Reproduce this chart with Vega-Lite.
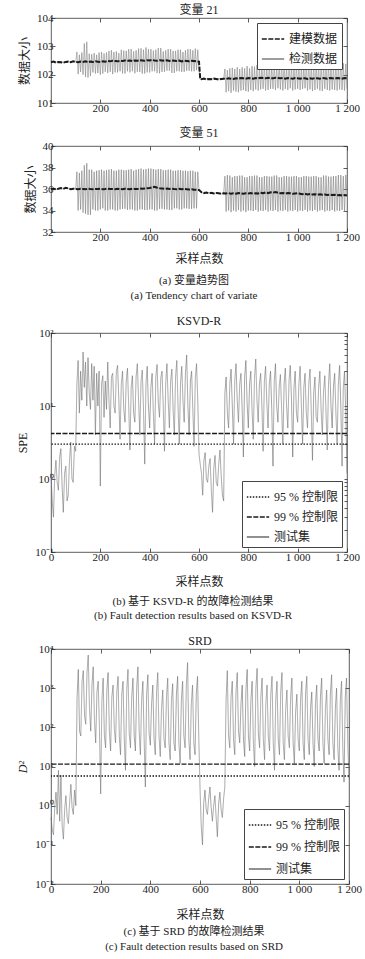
{
"$schema": "https://vega.github.io/schema/vega-lite/v6.json",
"background": "white",
"padding": {"left": 16, "top": 3, "right": 2, "bottom": 2},
"config": {
  "font": "Liberation Serif, Noto Sans CJK SC",
  "view": {"stroke": "#333", "strokeWidth": 0.8},
  "axis": {"domain": false, "grid": false, "ticks": true, "tickSize": -4, "tickColor": "#333", "tickWidth": 0.8,
           "labelFont": "Liberation Serif, Noto Sans CJK SC", "labelFontSize": 11, "labelColor": "#222", "labelPadding": 3,
           "titleFont": "Liberation Serif, Noto Sans CJK SC", "titleFontSize": 12, "titleFontWeight": "normal", "titleColor": "#222", "titlePadding": 11,
           "labelFlush": false, "labelOverlap": false},
  "axisLeft": {"labelPadding": 2, "titlePadding": 5},
  "axisTop": {"minExtent": 0, "maxExtent": 0},
  "axisRight": {"minExtent": 0, "maxExtent": 0},
  "title": {"font": "Liberation Serif, Noto Sans CJK SC", "fontSize": 12, "fontWeight": "normal", "color": "#222", "offset": 3},
  "legend": {"strokeColor": "#444", "fillColor": "white", "padding": 4, "symbolType": "stroke", "symbolSize": 500, "symbolStrokeWidth": 1.6,
             "labelFont": "Liberation Serif, Noto Sans CJK SC", "labelFontSize": 12, "labelColor": "#222", "rowPadding": 2, "labelLimit": 200, "offset": 5, "cornerRadius": 0}
},
"datasets": {
"v21m": [
{"x":0,"m":102.44},{"x":10,"m":102.46},{"x":20,"m":102.43},{"x":30,"m":102.45},{"x":40,"m":102.44},{"x":50,"m":102.42},{"x":60,"m":102.45},{"x":70,"m":102.46},{"x":80,"m":102.44},{"x":90,"m":102.47},{"x":100,"m":102.45},
{"x":110,"m":102.44},{"x":120,"m":102.46},{"x":130,"m":102.45},{"x":140,"m":102.47},{"x":150,"m":102.44},{"x":160,"m":102.46},{"x":170,"m":102.45},{"x":180,"m":102.47},{"x":190,"m":102.46},{"x":200,"m":102.45},
{"x":210,"m":102.47},{"x":220,"m":102.46},{"x":230,"m":102.48},{"x":240,"m":102.47},{"x":250,"m":102.49},{"x":260,"m":102.48},{"x":270,"m":102.47},{"x":280,"m":102.49},{"x":290,"m":102.48},{"x":300,"m":102.5},
{"x":310,"m":102.49},{"x":320,"m":102.5},{"x":330,"m":102.48},{"x":340,"m":102.5},{"x":350,"m":102.49},{"x":360,"m":102.51},{"x":370,"m":102.5},{"x":380,"m":102.49},{"x":390,"m":102.51},{"x":400,"m":102.5},
{"x":410,"m":102.52},{"x":420,"m":102.5},{"x":430,"m":102.49},{"x":440,"m":102.51},{"x":450,"m":102.5},{"x":460,"m":102.49},{"x":470,"m":102.51},{"x":480,"m":102.48},{"x":490,"m":102.5},{"x":500,"m":102.49},
{"x":510,"m":102.48},{"x":520,"m":102.5},{"x":530,"m":102.47},{"x":540,"m":102.49},{"x":550,"m":102.48},{"x":560,"m":102.47},{"x":570,"m":102.49},{"x":580,"m":102.48},{"x":590,"m":102.47},{"x":600,"m":102.46},
{"x":605,"m":101.85},{"x":610,"m":101.84},{"x":620,"m":101.86},{"x":630,"m":101.83},{"x":640,"m":101.85},{"x":650,"m":101.84},{"x":660,"m":101.86},{"x":670,"m":101.85},{"x":680,"m":101.83},{"x":690,"m":101.85},{"x":700,"m":101.86},
{"x":710,"m":101.85},{"x":720,"m":101.87},{"x":730,"m":101.86},{"x":740,"m":101.85},{"x":750,"m":101.87},{"x":760,"m":101.86},{"x":770,"m":101.88},{"x":780,"m":101.87},{"x":790,"m":101.86},{"x":800,"m":101.88},
{"x":810,"m":101.87},{"x":820,"m":101.86},{"x":830,"m":101.88},{"x":840,"m":101.87},{"x":850,"m":101.89},{"x":860,"m":101.88},{"x":870,"m":101.87},{"x":880,"m":101.89},{"x":890,"m":101.88},{"x":900,"m":101.87},
{"x":910,"m":101.89},{"x":920,"m":101.88},{"x":930,"m":101.87},{"x":940,"m":101.88},{"x":950,"m":101.86},{"x":960,"m":101.88},{"x":970,"m":101.87},{"x":980,"m":101.86},{"x":990,"m":101.88},{"x":1000,"m":101.87},
{"x":1010,"m":101.86},{"x":1020,"m":101.88},{"x":1030,"m":101.87},{"x":1040,"m":101.85},{"x":1050,"m":101.87},{"x":1060,"m":101.86},{"x":1070,"m":101.88},{"x":1080,"m":101.87},{"x":1090,"m":101.86},{"x":1100,"m":101.88},
{"x":1110,"m":101.87},{"x":1120,"m":101.86},{"x":1130,"m":101.88},{"x":1140,"m":101.87},{"x":1150,"m":101.86},{"x":1160,"m":101.88},{"x":1170,"m":101.87},{"x":1180,"m":101.86},{"x":1190,"m":101.88},{"x":1200,"m":101.87}
],
"v21d": [
{"x":0,"d":102.44},{"x":5,"d":102.45},{"x":10,"d":102.46},{"x":15,"d":102.44},{"x":20,"d":102.43},{"x":25,"d":102.45},{"x":30,"d":102.45},{"x":35,"d":102.44},{"x":40,"d":102.44},{"x":45,"d":102.43},{"x":50,"d":102.42},{"x":55,"d":102.44},{"x":60,"d":102.45},{"x":65,"d":102.46},{"x":70,"d":102.46},{"x":75,"d":102.45},{"x":80,"d":102.44},{"x":85,"d":102.46},{"x":90,"d":102.47},{"x":95,"d":102.45},{"x":100,"d":102.45},
{"x":105,"d":102.8},{"x":110,"d":102.02},{"x":115,"d":102.7},{"x":120,"d":102.1},{"x":125,"d":102.78},{"x":130,"d":102.0},{"x":135,"d":103.1},{"x":140,"d":101.92},{"x":145,"d":103.16},{"x":150,"d":101.9},
{"x":155,"d":102.74},{"x":160,"d":101.95},{"x":165,"d":102.72},{"x":170,"d":102.08},{"x":175,"d":102.76},{"x":180,"d":102.04},{"x":185,"d":102.7},{"x":190,"d":102.06},{"x":195,"d":102.78},{"x":200,"d":102.0},
{"x":205,"d":102.8},{"x":210,"d":102.04},{"x":215,"d":102.75},{"x":220,"d":102.1},{"x":225,"d":102.78},{"x":230,"d":102.06},{"x":235,"d":102.84},{"x":240,"d":102.1},{"x":245,"d":102.86},{"x":250,"d":102.02},
{"x":255,"d":102.8},{"x":260,"d":102.08},{"x":265,"d":102.82},{"x":270,"d":102.08},{"x":275,"d":102.76},{"x":280,"d":102.12},{"x":285,"d":102.88},{"x":290,"d":102.04},{"x":295,"d":102.85},{"x":300,"d":102.04},
{"x":305,"d":102.84},{"x":310,"d":102.12},{"x":315,"d":102.9},{"x":320,"d":102.08},{"x":325,"d":102.9},{"x":330,"d":102.12},{"x":335,"d":102.82},{"x":340,"d":102.05},{"x":345,"d":102.86},{"x":350,"d":102.1},
{"x":355,"d":102.92},{"x":360,"d":102.1},{"x":365,"d":102.93},{"x":370,"d":102.04},{"x":375,"d":102.88},{"x":380,"d":102.04},{"x":385,"d":102.96},{"x":390,"d":102.08},{"x":395,"d":102.9},{"x":400,"d":102.08},
{"x":405,"d":102.9},{"x":410,"d":102.12},{"x":415,"d":102.85},{"x":420,"d":102.12},{"x":425,"d":102.88},{"x":430,"d":102.06},{"x":435,"d":102.94},{"x":440,"d":102.05},{"x":445,"d":102.94},{"x":450,"d":102.1},
{"x":455,"d":102.82},{"x":460,"d":102.1},{"x":465,"d":102.86},{"x":470,"d":102.14},{"x":475,"d":102.9},{"x":480,"d":102.14},{"x":485,"d":102.9},{"x":490,"d":102.06},{"x":495,"d":102.84},{"x":500,"d":102.06},
{"x":505,"d":102.84},{"x":510,"d":102.12},{"x":515,"d":102.88},{"x":520,"d":102.12},{"x":525,"d":102.88},{"x":530,"d":102.1},{"x":535,"d":102.8},{"x":540,"d":102.1},{"x":545,"d":102.86},{"x":550,"d":102.14},
{"x":555,"d":102.9},{"x":560,"d":102.14},{"x":565,"d":102.9},{"x":570,"d":102.12},{"x":575,"d":102.86},{"x":580,"d":102.12},{"x":585,"d":102.92},{"x":590,"d":102.16},{"x":595,"d":102.88},{"x":600,"d":102.2},
{"x":605,"d":101.84},{"x":610,"d":101.85},{"x":615,"d":101.86},{"x":620,"d":101.84},{"x":625,"d":101.83},{"x":630,"d":101.85},{"x":635,"d":101.85},{"x":640,"d":101.84},{"x":645,"d":101.84},{"x":650,"d":101.86},{"x":655,"d":101.86},{"x":660,"d":101.85},{"x":665,"d":101.85},{"x":670,"d":101.84},{"x":675,"d":101.83},{"x":680,"d":101.85},{"x":685,"d":101.85},{"x":690,"d":101.86},{"x":695,"d":101.86},{"x":700,"d":101.85},
{"x":705,"d":102.2},{"x":710,"d":101.38},{"x":715,"d":102.16},{"x":720,"d":101.42},{"x":725,"d":102.22},{"x":730,"d":101.36},{"x":735,"d":102.24},{"x":740,"d":101.44},{"x":745,"d":102.2},{"x":750,"d":101.4},
{"x":755,"d":102.26},{"x":760,"d":101.38},{"x":765,"d":102.2},{"x":770,"d":101.44},{"x":775,"d":102.26},{"x":780,"d":101.46},{"x":785,"d":102.22},{"x":790,"d":101.42},{"x":795,"d":102.3},{"x":800,"d":101.4},
{"x":805,"d":102.22},{"x":810,"d":101.46},{"x":815,"d":102.3},{"x":820,"d":101.42},{"x":825,"d":102.28},{"x":830,"d":101.48},{"x":835,"d":102.34},{"x":840,"d":101.44},{"x":845,"d":102.28},{"x":850,"d":101.48},
{"x":855,"d":102.3},{"x":860,"d":101.5},{"x":865,"d":102.34},{"x":870,"d":101.44},{"x":875,"d":102.3},{"x":880,"d":101.46},{"x":885,"d":102.36},{"x":890,"d":101.5},{"x":895,"d":102.32},{"x":900,"d":101.5},
{"x":905,"d":102.36},{"x":910,"d":101.46},{"x":915,"d":102.32},{"x":920,"d":101.52},{"x":925,"d":102.32},{"x":930,"d":101.48},{"x":935,"d":102.38},{"x":940,"d":101.44},{"x":945,"d":102.38},{"x":950,"d":101.5},
{"x":955,"d":102.3},{"x":960,"d":101.46},{"x":965,"d":102.34},{"x":970,"d":101.52},{"x":975,"d":102.34},{"x":980,"d":101.44},{"x":985,"d":102.3},{"x":990,"d":101.48},{"x":995,"d":102.36},{"x":1000,"d":101.5},
{"x":1005,"d":102.36},{"x":1010,"d":101.46},{"x":1015,"d":102.3},{"x":1020,"d":101.5},{"x":1025,"d":102.3},{"x":1030,"d":101.52},{"x":1035,"d":102.38},{"x":1040,"d":101.44},{"x":1045,"d":102.38},{"x":1050,"d":101.48},
{"x":1055,"d":102.32},{"x":1060,"d":101.42},{"x":1065,"d":102.36},{"x":1070,"d":101.46},{"x":1075,"d":102.36},{"x":1080,"d":101.5},{"x":1085,"d":102.34},{"x":1090,"d":101.44},{"x":1095,"d":102.34},{"x":1100,"d":101.42},
{"x":1105,"d":102.34},{"x":1110,"d":101.5},{"x":1115,"d":102.38},{"x":1120,"d":101.46},{"x":1125,"d":102.38},{"x":1130,"d":101.44},{"x":1135,"d":102.32},{"x":1140,"d":101.48},{"x":1145,"d":102.32},{"x":1150,"d":101.46},
{"x":1155,"d":102.36},{"x":1160,"d":101.44},{"x":1165,"d":102.36},{"x":1170,"d":101.48},{"x":1175,"d":102.4},{"x":1180,"d":101.46},{"x":1185,"d":102.4},{"x":1190,"d":101.44},{"x":1195,"d":102.38},{"x":1200,"d":101.5}
],
"v51m": [
{"x":0,"m":36.0},{"x":10,"m":36.05},{"x":20,"m":35.95},{"x":30,"m":36.02},{"x":40,"m":36.08},{"x":50,"m":36.0},{"x":60,"m":36.12},{"x":70,"m":36.05},{"x":80,"m":35.98},{"x":90,"m":36.03},{"x":100,"m":36.0},
{"x":110,"m":35.98},{"x":120,"m":36.02},{"x":130,"m":36.0},{"x":140,"m":35.97},{"x":150,"m":36.03},{"x":160,"m":36.0},{"x":170,"m":35.98},{"x":180,"m":36.01},{"x":190,"m":35.99},{"x":200,"m":36.02},
{"x":210,"m":35.98},{"x":220,"m":36.0},{"x":230,"m":36.03},{"x":240,"m":35.99},{"x":250,"m":36.01},{"x":260,"m":35.98},{"x":270,"m":36.02},{"x":280,"m":36.0},{"x":290,"m":35.97},{"x":300,"m":36.02},
{"x":310,"m":36.0},{"x":320,"m":35.98},{"x":330,"m":36.03},{"x":340,"m":36.01},{"x":350,"m":35.99},{"x":360,"m":36.04},{"x":370,"m":36.02},{"x":380,"m":36.05},{"x":390,"m":36.08},{"x":400,"m":36.1},
{"x":410,"m":36.15},{"x":420,"m":36.2},{"x":430,"m":36.12},{"x":440,"m":36.08},{"x":450,"m":36.05},{"x":460,"m":36.02},{"x":470,"m":36.04},{"x":480,"m":36.0},{"x":490,"m":36.03},{"x":500,"m":36.0},
{"x":510,"m":35.98},{"x":520,"m":36.02},{"x":530,"m":35.97},{"x":540,"m":36.0},{"x":550,"m":35.98},{"x":560,"m":35.95},{"x":570,"m":35.97},{"x":580,"m":35.94},{"x":590,"m":35.92},{"x":600,"m":35.9},
{"x":610,"m":35.7},{"x":620,"m":35.62},{"x":630,"m":35.68},{"x":640,"m":35.6},{"x":650,"m":35.65},{"x":660,"m":35.58},{"x":670,"m":35.63},{"x":680,"m":35.6},{"x":690,"m":35.55},{"x":700,"m":35.6},
{"x":710,"m":35.58},{"x":720,"m":35.62},{"x":730,"m":35.55},{"x":740,"m":35.6},{"x":750,"m":35.57},{"x":760,"m":35.63},{"x":770,"m":35.59},{"x":780,"m":35.55},{"x":790,"m":35.6},{"x":800,"m":35.58},
{"x":810,"m":35.62},{"x":820,"m":35.56},{"x":830,"m":35.6},{"x":840,"m":35.58},{"x":850,"m":35.65},{"x":860,"m":35.6},{"x":870,"m":35.68},{"x":880,"m":35.62},{"x":890,"m":35.7},{"x":900,"m":35.66},
{"x":910,"m":35.72},{"x":920,"m":35.65},{"x":930,"m":35.6},{"x":940,"m":35.63},{"x":950,"m":35.58},{"x":960,"m":35.62},{"x":970,"m":35.6},{"x":980,"m":35.55},{"x":990,"m":35.58},{"x":1000,"m":35.6},
{"x":1010,"m":35.56},{"x":1020,"m":35.52},{"x":1030,"m":35.55},{"x":1040,"m":35.5},{"x":1050,"m":35.53},{"x":1060,"m":35.48},{"x":1070,"m":35.52},{"x":1080,"m":35.47},{"x":1090,"m":35.5},{"x":1100,"m":35.46},
{"x":1110,"m":35.49},{"x":1120,"m":35.45},{"x":1130,"m":35.48},{"x":1140,"m":35.44},{"x":1150,"m":35.46},{"x":1160,"m":35.42},{"x":1170,"m":35.45},{"x":1180,"m":35.4},{"x":1190,"m":35.43},{"x":1200,"m":35.4}
],
"v51d": [
{"x":0,"d":36.0},{"x":5,"d":36.03},{"x":10,"d":36.05},{"x":15,"d":36.0},{"x":20,"d":35.95},{"x":25,"d":36.0},{"x":30,"d":36.02},{"x":35,"d":36.05},{"x":40,"d":36.08},{"x":45,"d":36.04},{"x":50,"d":36.0},{"x":55,"d":36.06},{"x":60,"d":36.12},{"x":65,"d":36.08},{"x":70,"d":36.05},{"x":75,"d":36.0},{"x":80,"d":35.98},{"x":85,"d":36.0},{"x":90,"d":36.03},{"x":95,"d":36.02},{"x":100,"d":36.0},
{"x":105,"d":37.6},{"x":110,"d":34.0},{"x":115,"d":37.5},{"x":120,"d":34.1},{"x":125,"d":37.7},{"x":130,"d":33.8},{"x":135,"d":38.2},{"x":140,"d":33.7},{"x":145,"d":38.4},{"x":150,"d":33.6},
{"x":155,"d":37.8},{"x":160,"d":33.6},{"x":165,"d":37.8},{"x":170,"d":34.1},{"x":175,"d":37.6},{"x":180,"d":34.0},{"x":185,"d":37.7},{"x":190,"d":34.0},{"x":195,"d":37.75},{"x":200,"d":34.1},
{"x":205,"d":37.8},{"x":210,"d":34.2},{"x":215,"d":37.7},{"x":220,"d":34.0},{"x":225,"d":37.75},{"x":230,"d":34.0},{"x":235,"d":37.8},{"x":240,"d":34.1},{"x":245,"d":37.85},{"x":250,"d":34.1},
{"x":255,"d":37.7},{"x":260,"d":34.0},{"x":265,"d":37.7},{"x":270,"d":34.0},{"x":275,"d":37.8},{"x":280,"d":34.1},{"x":285,"d":37.8},{"x":290,"d":34.15},{"x":295,"d":37.75},{"x":300,"d":34.15},
{"x":305,"d":37.75},{"x":310,"d":34.05},{"x":315,"d":37.8},{"x":320,"d":34.1},{"x":325,"d":37.85},{"x":330,"d":34.1},{"x":335,"d":37.7},{"x":340,"d":34.0},{"x":345,"d":37.8},{"x":350,"d":34.0},
{"x":355,"d":37.85},{"x":360,"d":34.1},{"x":365,"d":37.9},{"x":370,"d":34.1},{"x":375,"d":37.8},{"x":380,"d":34.05},{"x":385,"d":37.85},{"x":390,"d":34.05},{"x":395,"d":37.9},{"x":400,"d":34.1},
{"x":405,"d":37.9},{"x":410,"d":34.1},{"x":415,"d":37.85},{"x":420,"d":34.0},{"x":425,"d":37.8},{"x":430,"d":34.0},{"x":435,"d":37.85},{"x":440,"d":34.15},{"x":445,"d":37.85},{"x":450,"d":34.15},
{"x":455,"d":37.75},{"x":460,"d":34.1},{"x":465,"d":37.75},{"x":470,"d":34.1},{"x":475,"d":37.8},{"x":480,"d":34.05},{"x":485,"d":37.8},{"x":490,"d":34.05},{"x":495,"d":37.7},{"x":500,"d":34.2},
{"x":505,"d":37.7},{"x":510,"d":34.2},{"x":515,"d":37.75},{"x":520,"d":34.1},{"x":525,"d":37.75},{"x":530,"d":34.1},{"x":535,"d":37.7},{"x":540,"d":34.2},{"x":545,"d":37.7},{"x":550,"d":34.2},
{"x":555,"d":37.65},{"x":560,"d":34.15},{"x":565,"d":37.7},{"x":570,"d":34.15},{"x":575,"d":37.7},{"x":580,"d":34.2},{"x":585,"d":37.6},{"x":590,"d":34.2},{"x":595,"d":37.6},{"x":600,"d":35.9},
{"x":605,"d":35.75},{"x":610,"d":35.7},{"x":615,"d":35.65},{"x":620,"d":35.62},{"x":625,"d":35.66},{"x":630,"d":35.68},{"x":635,"d":35.62},{"x":640,"d":35.6},{"x":645,"d":35.64},{"x":650,"d":35.65},{"x":655,"d":35.6},{"x":660,"d":35.58},{"x":665,"d":35.62},{"x":670,"d":35.63},{"x":675,"d":35.6},{"x":680,"d":35.6},{"x":685,"d":35.57},{"x":690,"d":35.55},{"x":695,"d":35.58},{"x":700,"d":35.6},
{"x":705,"d":37.2},{"x":710,"d":33.9},{"x":715,"d":37.3},{"x":720,"d":34.0},{"x":725,"d":37.25},{"x":730,"d":33.85},{"x":735,"d":37.1},{"x":740,"d":34.0},{"x":745,"d":37.2},{"x":750,"d":33.9},
{"x":755,"d":37.2},{"x":760,"d":34.05},{"x":765,"d":37.25},{"x":770,"d":33.9},{"x":775,"d":37.25},{"x":780,"d":34.0},{"x":785,"d":37.1},{"x":790,"d":33.85},{"x":795,"d":37.1},{"x":800,"d":34.0},
{"x":805,"d":37.2},{"x":810,"d":34.0},{"x":815,"d":37.2},{"x":820,"d":33.95},{"x":825,"d":37.25},{"x":830,"d":34.05},{"x":835,"d":37.25},{"x":840,"d":33.9},{"x":845,"d":37.1},{"x":850,"d":34.0},
{"x":855,"d":37.1},{"x":860,"d":33.95},{"x":865,"d":37.2},{"x":870,"d":34.05},{"x":875,"d":37.2},{"x":880,"d":33.9},{"x":885,"d":37.15},{"x":890,"d":34.0},{"x":895,"d":37.15},{"x":900,"d":33.95},
{"x":905,"d":37.25},{"x":910,"d":34.05},{"x":915,"d":37.25},{"x":920,"d":33.9},{"x":925,"d":37.1},{"x":930,"d":34.0},{"x":935,"d":37.1},{"x":940,"d":33.95},{"x":945,"d":37.2},{"x":950,"d":34.05},
{"x":955,"d":37.2},{"x":960,"d":33.9},{"x":965,"d":37.15},{"x":970,"d":34.0},{"x":975,"d":37.15},{"x":980,"d":33.95},{"x":985,"d":37.2},{"x":990,"d":34.05},{"x":995,"d":37.2},{"x":1000,"d":33.9},
{"x":1005,"d":37.1},{"x":1010,"d":34.0},{"x":1015,"d":37.1},{"x":1020,"d":33.95},{"x":1025,"d":37.2},{"x":1030,"d":34.05},{"x":1035,"d":37.2},{"x":1040,"d":33.9},{"x":1045,"d":37.15},{"x":1050,"d":34.0},
{"x":1055,"d":37.15},{"x":1060,"d":33.95},{"x":1065,"d":37.2},{"x":1070,"d":34.05},{"x":1075,"d":37.2},{"x":1080,"d":33.9},{"x":1085,"d":37.1},{"x":1090,"d":34.0},{"x":1095,"d":37.1},{"x":1100,"d":34.05},
{"x":1105,"d":37.25},{"x":1110,"d":33.9},{"x":1115,"d":37.25},{"x":1120,"d":34.0},{"x":1125,"d":37.15},{"x":1130,"d":33.95},{"x":1135,"d":37.15},{"x":1140,"d":34.05},{"x":1145,"d":37.2},{"x":1150,"d":33.9},
{"x":1155,"d":37.2},{"x":1160,"d":34.0},{"x":1165,"d":37.3},{"x":1170,"d":33.95},{"x":1175,"d":37.3},{"x":1180,"d":34.05},{"x":1185,"d":37.2},{"x":1190,"d":33.9},{"x":1195,"d":37.3},{"x":1200,"d":35.4}
],
"ksvd": [
{"x":0,"v":1.2},{"x":5,"v":0.5},{"x":10,"v":0.3},{"x":15,"v":1.1},{"x":20,"v":1.8},{"x":25,"v":0.9},{"x":30,"v":0.7},{"x":35,"v":2.0},{"x":40,"v":2.6},{"x":45,"v":0.8},{"x":50,"v":0.35},{"x":55,"v":1.2},{"x":60,"v":1.5},{"x":65,"v":0.5},{"x":70,"v":0.6},{"x":75,"v":1.8},{"x":80,"v":3.2},{"x":85,"v":1.0},{"x":90,"v":0.9},{"x":95,"v":2.8},{"x":100,"v":2.4},
{"x":105,"v":20},{"x":110,"v":42},{"x":115,"v":8},{"x":120,"v":30},{"x":125,"v":12},{"x":130,"v":55},{"x":135,"v":18},{"x":140,"v":40},{"x":145,"v":10},{"x":150,"v":46},
{"x":155,"v":15},{"x":160,"v":9},{"x":165,"v":38},{"x":170,"v":12},{"x":175,"v":35},{"x":180,"v":4},{"x":185,"v":28},{"x":190,"v":10},{"x":195,"v":30},{"x":200,"v":0.8},
{"x":205,"v":20},{"x":210,"v":26},{"x":215,"v":7},{"x":220,"v":22},{"x":225,"v":9},{"x":230,"v":40},{"x":235,"v":12},{"x":240,"v":5},{"x":245,"v":25},{"x":250,"v":28},
{"x":255,"v":10},{"x":260,"v":8},{"x":265,"v":30},{"x":270,"v":36},{"x":275,"v":12},{"x":280,"v":3.5},{"x":285,"v":20},{"x":290,"v":30},{"x":295,"v":9},{"x":300,"v":6},
{"x":305,"v":22},{"x":310,"v":33},{"x":315,"v":10},{"x":320,"v":2.5},{"x":325,"v":18},{"x":330,"v":26},{"x":335,"v":8},{"x":340,"v":6},{"x":345,"v":25},{"x":350,"v":38},
{"x":355,"v":12},{"x":360,"v":4},{"x":365,"v":22},{"x":370,"v":31},{"x":375,"v":9},{"x":380,"v":1.6},{"x":385,"v":20},{"x":390,"v":35},{"x":395,"v":10},{"x":400,"v":5},
{"x":405,"v":18},{"x":410,"v":28},{"x":415,"v":8},{"x":420,"v":3},{"x":425,"v":25},{"x":430,"v":37},{"x":435,"v":11},{"x":440,"v":7},{"x":445,"v":24},{"x":450,"v":30},
{"x":455,"v":10},{"x":460,"v":2.4},{"x":465,"v":20},{"x":470,"v":38},{"x":475,"v":12},{"x":480,"v":5},{"x":485,"v":22},{"x":490,"v":32},{"x":495,"v":9},{"x":500,"v":4},
{"x":505,"v":25},{"x":510,"v":42},{"x":515,"v":10},{"x":520,"v":3},{"x":525,"v":20},{"x":530,"v":35},{"x":535,"v":12},{"x":540,"v":6},{"x":545,"v":28},{"x":550,"v":50},
{"x":555,"v":10},{"x":560,"v":4},{"x":565,"v":22},{"x":570,"v":30},{"x":575,"v":9},{"x":580,"v":2.8},{"x":585,"v":24},{"x":590,"v":38},{"x":595,"v":12},{"x":600,"v":2.2},
{"x":605,"v":1.6},{"x":610,"v":1.2},{"x":615,"v":0.6},{"x":620,"v":1.8},{"x":625,"v":2.3},{"x":630,"v":1.0},{"x":635,"v":0.9},{"x":640,"v":1.5},{"x":645,"v":1.9},{"x":650,"v":0.7},{"x":655,"v":0.35},{"x":660,"v":1.4},{"x":665,"v":2.1},{"x":670,"v":0.9},{"x":675,"v":0.8},{"x":680,"v":1.6},{"x":685,"v":2.5},{"x":690,"v":1.1},{"x":695,"v":0.6},{"x":700,"v":0.5},
{"x":705,"v":15},{"x":710,"v":25},{"x":715,"v":8},{"x":720,"v":5},{"x":725,"v":20},{"x":730,"v":32},{"x":735,"v":10},{"x":740,"v":3},{"x":745,"v":22},{"x":750,"v":38},
{"x":755,"v":12},{"x":760,"v":6},{"x":765,"v":20},{"x":770,"v":28},{"x":775,"v":9},{"x":780,"v":2},{"x":785,"v":25},{"x":790,"v":42},{"x":795,"v":11},{"x":800,"v":5},
{"x":805,"v":20},{"x":810,"v":30},{"x":815,"v":9},{"x":820,"v":3.5},{"x":825,"v":24},{"x":830,"v":44},{"x":835,"v":12},{"x":840,"v":6},{"x":845,"v":20},{"x":850,"v":28},
{"x":855,"v":10},{"x":860,"v":2.4},{"x":865,"v":22},{"x":870,"v":35},{"x":875,"v":11},{"x":880,"v":5},{"x":885,"v":20},{"x":890,"v":30},{"x":895,"v":9},{"x":900,"v":1.5},
{"x":905,"v":22},{"x":910,"v":38},{"x":915,"v":10},{"x":920,"v":6},{"x":925,"v":18},{"x":930,"v":27},{"x":935,"v":9},{"x":940,"v":3},{"x":945,"v":20},{"x":950,"v":33},
{"x":955,"v":10},{"x":960,"v":5},{"x":965,"v":22},{"x":970,"v":36},{"x":975,"v":12},{"x":980,"v":2},{"x":985,"v":18},{"x":990,"v":30},{"x":995,"v":8},{"x":1000,"v":6},
{"x":1005,"v":20},{"x":1010,"v":35},{"x":1015,"v":10},{"x":1020,"v":3},{"x":1025,"v":18},{"x":1030,"v":28},{"x":1035,"v":8},{"x":1040,"v":5},{"x":1045,"v":20},{"x":1050,"v":32},
{"x":1055,"v":9},{"x":1060,"v":1.8},{"x":1065,"v":15},{"x":1070,"v":25},{"x":1075,"v":7},{"x":1080,"v":6},{"x":1085,"v":18},{"x":1090,"v":30},{"x":1095,"v":9},{"x":1100,"v":4},
{"x":1105,"v":16},{"x":1110,"v":26},{"x":1115,"v":8},{"x":1120,"v":2.5},{"x":1125,"v":20},{"x":1130,"v":38},{"x":1135,"v":10},{"x":1140,"v":5},{"x":1145,"v":18},{"x":1150,"v":28},
{"x":1155,"v":8},{"x":1160,"v":3},{"x":1165,"v":20},{"x":1170,"v":36},{"x":1175,"v":10},{"x":1180,"v":1.5},{"x":1185,"v":18},{"x":1190,"v":30},{"x":1195,"v":8},{"x":1200,"v":1.2}
],
"srd": [
{"x":0,"v":0.5},{"x":5,"v":0.25},{"x":10,"v":0.18},{"x":15,"v":0.9},{"x":20,"v":2.2},{"x":25,"v":0.6},{"x":30,"v":8},{"x":35,"v":0.4},{"x":40,"v":6},{"x":45,"v":0.3},{"x":50,"v":0.14},{"x":55,"v":0.8},{"x":60,"v":1.8},{"x":65,"v":0.5},{"x":70,"v":0.35},{"x":75,"v":1.2},{"x":80,"v":3.5},{"x":85,"v":0.9},{"x":90,"v":0.6},{"x":95,"v":2.5},{"x":100,"v":1.0},
{"x":105,"v":600},{"x":110,"v":3000},{"x":115,"v":80},{"x":120,"v":60},{"x":125,"v":1500},{"x":130,"v":2800},{"x":135,"v":200},{"x":140,"v":120},{"x":145,"v":2500},{"x":150,"v":7000},
{"x":155,"v":300},{"x":160,"v":80},{"x":165,"v":1200},{"x":170,"v":3500},{"x":175,"v":150},{"x":180,"v":40},{"x":185,"v":800},{"x":190,"v":1500},{"x":195,"v":100},{"x":200,"v":2},
{"x":205,"v":500},{"x":210,"v":1800},{"x":215,"v":60},{"x":220,"v":30},{"x":225,"v":900},{"x":230,"v":2500},{"x":235,"v":80},{"x":240,"v":25},{"x":245,"v":600},{"x":250,"v":1200},
{"x":255,"v":90},{"x":260,"v":40},{"x":265,"v":800},{"x":270,"v":2000},{"x":275,"v":60},{"x":280,"v":20},{"x":285,"v":700},{"x":290,"v":1500},{"x":295,"v":50},{"x":300,"v":8},
{"x":305,"v":900},{"x":310,"v":3000},{"x":315,"v":70},{"x":320,"v":30},{"x":325,"v":600},{"x":330,"v":1800},{"x":335,"v":60},{"x":340,"v":25},{"x":345,"v":1000},{"x":350,"v":3500},
{"x":355,"v":80},{"x":360,"v":20},{"x":365,"v":500},{"x":370,"v":1500},{"x":375,"v":50},{"x":380,"v":3},{"x":385,"v":700},{"x":390,"v":2200},{"x":395,"v":70},{"x":400,"v":35},
{"x":405,"v":400},{"x":410,"v":1200},{"x":415,"v":50},{"x":420,"v":20},{"x":425,"v":800},{"x":430,"v":2500},{"x":435,"v":60},{"x":440,"v":18},{"x":445,"v":300},{"x":450,"v":900},
{"x":455,"v":50},{"x":460,"v":30},{"x":465,"v":600},{"x":470,"v":1800},{"x":475,"v":40},{"x":480,"v":15},{"x":485,"v":500},{"x":490,"v":1300},{"x":495,"v":40},{"x":500,"v":25},
{"x":505,"v":700},{"x":510,"v":2000},{"x":515,"v":40},{"x":520,"v":12},{"x":525,"v":500},{"x":530,"v":1500},{"x":535,"v":60},{"x":540,"v":30},{"x":545,"v":1200},{"x":550,"v":4500},
{"x":555,"v":50},{"x":560,"v":15},{"x":565,"v":400},{"x":570,"v":1200},{"x":575,"v":40},{"x":580,"v":20},{"x":585,"v":700},{"x":590,"v":2000},{"x":595,"v":60},{"x":600,"v":3},
{"x":605,"v":0.3},{"x":610,"v":0.1},{"x":615,"v":1.2},{"x":620,"v":2.5},{"x":625,"v":0.8},{"x":630,"v":0.6},{"x":635,"v":1.5},{"x":640,"v":3},{"x":645,"v":0.9},{"x":650,"v":0.4},{"x":655,"v":1.0},{"x":660,"v":1.8},{"x":665,"v":0.5},{"x":670,"v":0.16},{"x":675,"v":1.1},{"x":680,"v":2.2},{"x":685,"v":0.8},{"x":690,"v":0.5},{"x":695,"v":1.5},{"x":700,"v":3},
{"x":705,"v":500},{"x":710,"v":2800},{"x":715,"v":60},{"x":720,"v":30},{"x":725,"v":600},{"x":730,"v":1500},{"x":735,"v":50},{"x":740,"v":20},{"x":745,"v":800},{"x":750,"v":2500},
{"x":755,"v":80},{"x":760,"v":40},{"x":765,"v":400},{"x":770,"v":1200},{"x":775,"v":50},{"x":780,"v":18},{"x":785,"v":900},{"x":790,"v":3000},{"x":795,"v":60},{"x":800,"v":25},
{"x":805,"v":500},{"x":810,"v":1500},{"x":815,"v":40},{"x":820,"v":10},{"x":825,"v":1000},{"x":830,"v":3200},{"x":835,"v":70},{"x":840,"v":30},{"x":845,"v":600},{"x":850,"v":1800},
{"x":855,"v":50},{"x":860,"v":15},{"x":865,"v":400},{"x":870,"v":1200},{"x":875,"v":60},{"x":880,"v":25},{"x":885,"v":700},{"x":890,"v":2000},{"x":895,"v":40},{"x":900,"v":8},
{"x":905,"v":500},{"x":910,"v":1500},{"x":915,"v":50},{"x":920,"v":20},{"x":925,"v":800},{"x":930,"v":2500},{"x":935,"v":40},{"x":940,"v":15},{"x":945,"v":300},{"x":950,"v":900},
{"x":955,"v":60},{"x":960,"v":30},{"x":965,"v":600},{"x":970,"v":1800},{"x":975,"v":40},{"x":980,"v":12},{"x":985,"v":250},{"x":990,"v":700},{"x":995,"v":50},{"x":1000,"v":25},
{"x":1005,"v":500},{"x":1010,"v":1500},{"x":1015,"v":40},{"x":1020,"v":15},{"x":1025,"v":700},{"x":1030,"v":2000},{"x":1035,"v":50},{"x":1040,"v":20},{"x":1045,"v":300},{"x":1050,"v":800},
{"x":1055,"v":40},{"x":1060,"v":10},{"x":1065,"v":400},{"x":1070,"v":1200},{"x":1075,"v":50},{"x":1080,"v":25},{"x":1085,"v":600},{"x":1090,"v":1800},{"x":1095,"v":40},{"x":1100,"v":12},
{"x":1105,"v":300},{"x":1110,"v":900},{"x":1115,"v":50},{"x":1120,"v":20},{"x":1125,"v":700},{"x":1130,"v":2200},{"x":1135,"v":40},{"x":1140,"v":15},{"x":1145,"v":300},{"x":1150,"v":1000},
{"x":1155,"v":30},{"x":1160,"v":8},{"x":1165,"v":500},{"x":1170,"v":1500},{"x":1175,"v":30},{"x":1180,"v":4},{"x":1185,"v":600},{"x":1190,"v":1800},{"x":1195,"v":40},{"x":1200,"v":5}
],
"lim_k": [{"s":"95 % 控制限","v":3.0},{"s":"99 % 控制限","v":4.2}],
"lim_s": [{"s":"95 % 控制限","v":5.7},{"s":"99 % 控制限","v":11.5}]
},
"vconcat": [
 {
  "title": {"text": ["(a) 变量趋势图", "(a) Tendency chart of variate"], "orient": "bottom", "anchor": "middle", "dx": 5, "fontSize": 11, "lineHeight": 15, "offset": 11},
  "spacing": 12,
  "resolve": {"scale": {"color": "independent", "strokeDash": "independent"}},
  "vconcat": [
   {
    "width": 296, "height": 85,
    "title": {"text": "变量 21", "offset": -5},
    "layer": [
     {"data": {"name": "v21d"}, "mark": {"type": "line", "strokeWidth": 0.6},
      "encoding": {
       "x": {"field": "x", "type": "quantitative", "scale": {"domain": [0, 1200], "nice": false}, "axis": {"values": [200, 400, 600, 800, 1000, 1200], "title": null, "labelExpr": "replace(format(datum.value, ',d'), ',', ' ')"}},
       "y": {"field": "d", "type": "quantitative", "scale": {"domain": [101, 104], "nice": false, "zero": false}, "axis": {"values": [101, 102, 103, 104], "title": "数据大小"}},
       "color": {"datum": "检测数据", "type": "nominal", "scale": {"domain": ["建模数据", "检测数据"], "range": ["#1a1a1a", "#7d7d7d"]}, "legend": {"title": null, "orient": "top-right"}},
       "strokeDash": {"datum": "检测数据", "type": "nominal", "scale": {"domain": ["建模数据", "检测数据"], "range": [[5, 1.5], [1, 0]]}, "legend": {"title": null, "orient": "top-right"}}
      }},
     {"data": {"name": "v21m"}, "mark": {"type": "line", "strokeWidth": 2},
      "encoding": {
       "x": {"field": "x", "type": "quantitative", "axis": {"orient": "top", "labels": false, "title": null, "values": [200, 400, 600, 800, 1000, 1200]}},
       "y": {"field": "m", "type": "quantitative", "axis": {"orient": "right", "labels": false, "title": null, "values": [101, 102, 103, 104]}},
       "color": {"datum": "建模数据", "type": "nominal"},
       "strokeDash": {"datum": "建模数据", "type": "nominal"}
      }}
    ],
    "resolve": {"axis": {"x": "independent", "y": "independent"}}
   },
   {
    "width": 296, "height": 86,
    "title": {"text": "变量 51", "offset": 0},
    "layer": [
     {"data": {"name": "v51d"}, "mark": {"type": "line", "strokeWidth": 0.6, "color": "#7d7d7d"},
      "encoding": {
       "x": {"field": "x", "type": "quantitative", "scale": {"domain": [0, 1200], "nice": false}, "axis": {"values": [200, 400, 600, 800, 1000, 1200], "title": "采样点数", "labelExpr": "replace(format(datum.value, ',d'), ',', ' ')"}},
       "y": {"field": "d", "type": "quantitative", "scale": {"domain": [32, 40], "nice": false, "zero": false}, "axis": {"values": [32, 34, 36, 38, 40], "title": "数据大小"}}
      }},
     {"data": {"name": "v51m"}, "mark": {"type": "line", "strokeWidth": 2, "color": "#1a1a1a", "strokeDash": [5, 1.5]},
      "encoding": {
       "x": {"field": "x", "type": "quantitative", "axis": {"orient": "top", "labels": false, "title": null, "values": [200, 400, 600, 800, 1000, 1200]}},
       "y": {"field": "m", "type": "quantitative", "axis": {"orient": "right", "labels": false, "title": null, "values": [32, 34, 36, 38, 40]}}
      }}
    ],
    "resolve": {"axis": {"x": "independent", "y": "independent"}}
   }
  ]
 },
 {
  "title": {"text": ["(b) 基于 KSVD-R 的故障检测结果", "(b) Fault detection results based on KSVD-R"], "orient": "bottom", "anchor": "middle", "dx": 5, "fontSize": 11, "lineHeight": 14, "offset": 9},
  "resolve": {"scale": {"color": "independent", "strokeDash": "independent"}},
  "vconcat": [
   {
    "width": 296, "height": 219,
    "title": {"text": "KSVD-R", "offset": -1},
    "layer": [
     {"data": {"name": "ksvd"}, "mark": {"type": "line", "strokeWidth": 0.6},
      "encoding": {
       "x": {"field": "x", "type": "quantitative", "scale": {"domain": [0, 1200], "nice": false}, "axis": {"values": [0, 200, 400, 600, 800, 1000, 1200], "title": "采样点数", "titlePadding": 14, "labelExpr": "replace(format(datum.value, ',d'), ',', ' ')"}},
       "y": {"field": "v", "type": "quantitative", "scale": {"type": "log", "domain": [0.1, 100], "nice": false}, "axis": {"values": [0.1, 1, 10, 100], "title": "SPE", "labelExpr": "'10' + ['⁻²','⁻¹','⁰','¹','²','³','⁴'][round(log(datum.value)/LN10)+2]"}},
       "color": {"datum": "测试集", "type": "nominal", "scale": {"domain": ["95 % 控制限", "99 % 控制限", "测试集"], "range": ["#1a1a1a", "#1a1a1a", "#6a6a6a"]}, "legend": {"title": null, "orient": "bottom-right"}},
       "strokeDash": {"datum": "测试集", "type": "nominal", "scale": {"domain": ["95 % 控制限", "99 % 控制限", "测试集"], "range": [[1.5, 1.5], [5, 1.5], [1, 0]]}, "legend": {"title": null, "orient": "bottom-right"}}
      }},
     {"data": {"name": "lim_k"}, "mark": {"type": "rule", "strokeWidth": 1.4},
      "encoding": {
       "y": {"field": "v", "type": "quantitative", "axis": null},
       "color": {"field": "s", "type": "nominal", "legend": {"title": null}},
       "strokeDash": {"field": "s", "type": "nominal", "legend": {"title": null}}
      }},
     {"data": {"name": "ksvd"}, "mark": {"type": "line", "opacity": 0},
      "encoding": {
       "x": {"field": "x", "type": "quantitative", "axis": {"orient": "top", "labels": false, "title": null, "values": [0, 200, 400, 600, 800, 1000, 1200]}},
       "y": {"field": "v", "type": "quantitative", "axis": {"orient": "right", "labels": false, "title": null, "tickSize": -3, "values": [0.1, 0.2, 0.3, 0.4, 0.5, 0.6, 0.7, 0.8, 0.9, 1, 2, 3, 4, 5, 6, 7, 8, 9, 10, 20, 30, 40, 50, 60, 70, 80, 90, 100]}}
      }}
    ],
    "resolve": {"axis": {"x": "independent", "y": "independent"}}
   }
  ]
 },
 {
  "title": {"text": ["(c) 基于 SRD 的故障检测结果", "(c) Fault detection results based on SRD"], "orient": "bottom", "anchor": "middle", "dx": 5, "fontSize": 11, "lineHeight": 15, "offset": 6},
  "resolve": {"scale": {"color": "independent", "strokeDash": "independent"}},
  "vconcat": [
   {
    "width": 298, "height": 235,
    "title": {"text": "SRD", "offset": -5},
    "layer": [
     {"data": {"name": "srd"}, "mark": {"type": "line", "strokeWidth": 0.6},
      "encoding": {
       "x": {"field": "x", "type": "quantitative", "scale": {"domain": [0, 1200], "nice": false}, "axis": {"values": [0, 200, 400, 600, 800, 1000, 1200], "title": "采样点数", "titlePadding": 15, "labelExpr": "replace(format(datum.value, ',d'), ',', ' ')"}},
       "y": {"field": "v", "type": "quantitative", "scale": {"type": "log", "domain": [0.01, 10000], "nice": false}, "axis": {"values": [0.01, 0.1, 1, 10, 100, 1000, 10000], "title": "D²", "titleFontStyle": "italic", "labelExpr": "'10' + ['⁻²','⁻¹','⁰','¹','²','³','⁴'][round(log(datum.value)/LN10)+2]"}},
       "color": {"datum": "测试集", "type": "nominal", "scale": {"domain": ["95 % 控制限", "99 % 控制限", "测试集"], "range": ["#1a1a1a", "#1a1a1a", "#6a6a6a"]}, "legend": {"title": null, "orient": "bottom-right", "rowPadding": 4}},
       "strokeDash": {"datum": "测试集", "type": "nominal", "scale": {"domain": ["95 % 控制限", "99 % 控制限", "测试集"], "range": [[1.5, 1.5], [5, 1.5], [1, 0]]}, "legend": {"title": null, "orient": "bottom-right", "rowPadding": 4}}
      }},
     {"data": {"name": "lim_s"}, "mark": {"type": "rule", "strokeWidth": 1.4},
      "encoding": {
       "y": {"field": "v", "type": "quantitative", "axis": null},
       "color": {"field": "s", "type": "nominal", "legend": {"title": null}},
       "strokeDash": {"field": "s", "type": "nominal", "legend": {"title": null}}
      }},
     {"data": {"name": "srd"}, "mark": {"type": "line", "opacity": 0},
      "encoding": {
       "x": {"field": "x", "type": "quantitative", "axis": {"orient": "top", "labels": false, "title": null, "values": [0, 200, 400, 600, 800, 1000, 1200]}},
       "y": {"field": "v", "type": "quantitative", "axis": {"orient": "right", "labels": false, "title": null, "values": [0.01, 0.1, 1, 10, 100, 1000, 10000]}}
      }}
    ],
    "resolve": {"axis": {"x": "independent", "y": "independent"}}
   }
  ]
 }
],
"spacing": 12
}
